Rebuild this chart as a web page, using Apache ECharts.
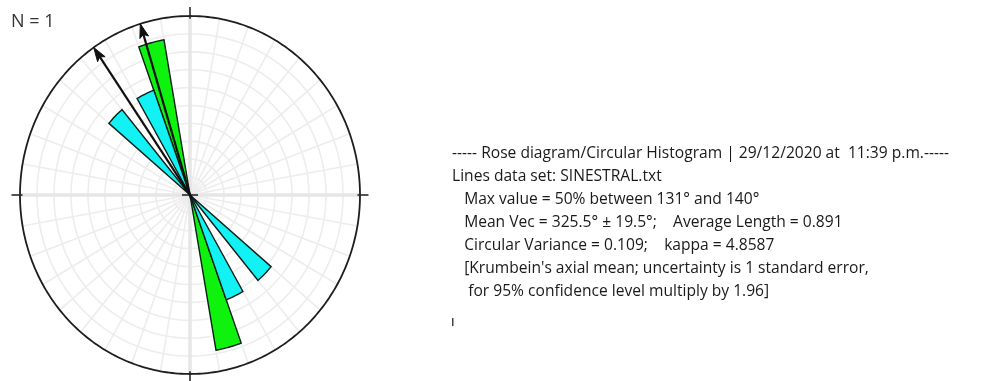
<!DOCTYPE html>
<html>
<head>
<meta charset="utf-8">
<script src="https://cdn.jsdelivr.net/npm/echarts@6/dist/echarts.min.js"></script>
<style>
  html, body { margin: 0; padding: 0; background: #ffffff; }
  #chart { width: 990px; height: 381px; }
</style>
</head>
<body>
<div id="chart"></div>
<script>
// Axial rose diagram (equal-area petals), bins of 10 degrees.
const binStartDeg = [160, 150, 130];          // bin lower bound, degrees clockwise from north
const binPercent = [50, 25, 25];              // frequency of each bin, %
const binIsMax = [true, false, false];
const outerPercent = 64.5;                    // percentage that maps to the outer circle (sqrt scale)

// Direction vectors (mean vector and modal direction), degrees
const arrowDeg = [325.5, 343];

// Reference net
const ringFractions = [0.1, 0.2, 0.3, 0.4, 0.5, 0.6, 0.7, 0.8, 0.9];
const spokeDeg = [0, 10, 20, 30, 40, 50, 60, 70, 80, 90, 100, 110, 120, 130, 140, 150, 160, 170,
                  180, 190, 200, 210, 220, 230, 240, 250, 260, 270, 280, 290, 300, 310, 320, 330, 340, 350];
const cardinalDeg = [0, 90, 180, 270];

const sampleLabel = 'N = 1';
const infoLines = [
  '----- Rose diagram/Circular Histogram | 29/12/2020 at  11:39 p.m.-----',
  'Lines data set: SINESTRAL.txt',
  '   Max value = 50% between 131° and 140°',
  '   Mean Vec = 325.5° ± 19.5°;    Average Length = 0.891',
  '   Circular Variance = 0.109;    kappa = 4.8587',
  '   [Krumbein\'s axial mean; uncertainty is 1 standard error,',
  '    for 95% confidence level multiply by 1.96]'
];

// Build petals: each axial bin is drawn twice (direction and its opposite)
const petals = [];
binStartDeg.forEach((s, i) => {
  [s, (s + 180) % 360].forEach(a => petals.push([a, a + 10, binPercent[i], binIsMax[i] ? 1 : 0]));
});

function pt(api, deg, r) {
  const t = deg * Math.PI / 180;
  return api.coord([r * Math.sin(t), r * Math.cos(t)]);
}

function arcPoints(api, a0, a1, r, step) {
  const pts = [];
  for (let a = a0; a <= a1 + 1e-9; a += step) pts.push(pt(api, a, r));
  return pts;
}

const chart = echarts.init(document.getElementById('chart'), null, { renderer: 'canvas' });

const option = {
  animation: false,
  backgroundColor: '#ffffff',
  grid: { left: 20, top: 16, width: 340, height: 358 },
  xAxis: { type: 'value', min: -1, max: 1, show: false },
  yAxis: { type: 'value', min: -1, max: 1, show: false },
  series: [
    // concentric rings
    {
      type: 'custom', silent: true, z: 1,
      data: ringFractions,
      renderItem: (params, api) => ({
        type: 'polyline',
        shape: { points: arcPoints(api, 0, 360, api.value(0), 2) },
        style: { stroke: '#ededed', lineWidth: 1.6, fill: null }
      })
    },
    // spokes
    {
      type: 'custom', silent: true, z: 1,
      data: spokeDeg,
      renderItem: (params, api) => {
        const a = pt(api, api.value(0), 0), b = pt(api, api.value(0), 1);
        return { type: 'line', shape: { x1: a[0], y1: a[1], x2: b[0], y2: b[1] },
                 style: { stroke: '#ededed', lineWidth: 1.6 } };
      }
    },
    // N-S / E-W axes through the centre
    {
      type: 'custom', silent: true, z: 2,
      data: [0, 90],
      renderItem: (params, api) => {
        const a = pt(api, api.value(0), 1), b = pt(api, api.value(0) + 180, 1);
        return { type: 'line', shape: { x1: a[0], y1: a[1], x2: b[0], y2: b[1] },
                 style: { stroke: '#e6e6e6', lineWidth: 3.5 } };
      }
    },
    // petals
    {
      type: 'custom', silent: true, z: 3,
      data: petals,
      renderItem: (params, api) => {
        const a0 = api.value(0), a1 = api.value(1);
        const r = Math.sqrt(api.value(2) / outerPercent);
        const pts = [pt(api, 0, 0)].concat(arcPoints(api, a0, a1, r, 1));
        return {
          type: 'polygon',
          shape: { points: pts },
          style: { fill: api.value(3) ? '#0ef20e' : '#12f2f4', stroke: '#0c1f18', lineWidth: 1.4 }
        };
      }
    },
    // outer circle, cardinal ticks and centre cross
    {
      type: 'custom', silent: true, z: 4,
      data: [1],
      renderItem: (params, api) => {
        const children = [{
          type: 'polyline',
          shape: { points: arcPoints(api, 0, 360, 1, 1) },
          style: { stroke: '#1e1e1e', lineWidth: 1.8, fill: null }
        }];
        cardinalDeg.forEach(d => {
          const a = pt(api, d, 0.985), b = pt(api, d, 1.05);
          children.push({ type: 'line', shape: { x1: a[0], y1: a[1], x2: b[0], y2: b[1] },
                          style: { stroke: '#2a2a2a', lineWidth: 1.6 } });
        });
        const c = pt(api, 0, 0);
        children.push({ type: 'line', shape: { x1: c[0] - 8, y1: c[1], x2: c[0] + 8, y2: c[1] },
                        style: { stroke: '#2a2a2a', lineWidth: 1.6 } });
        return { type: 'group', children };
      }
    },
    // direction arrows
    {
      type: 'custom', silent: true, z: 5,
      data: arrowDeg,
      renderItem: (params, api) => {
        const d = api.value(0);
        const c = pt(api, d + 180, 0.02), tip = pt(api, d, 1);
        const ang = Math.atan2(tip[1] - c[1], tip[0] - c[0]);
        const len = 14, half = 4.5;
        const bx = tip[0] - len * Math.cos(ang), by = tip[1] - len * Math.sin(ang);
        const nx = -Math.sin(ang), ny = Math.cos(ang);
        return {
          type: 'group',
          children: [
            { type: 'line', shape: { x1: c[0], y1: c[1], x2: bx + 4 * Math.cos(ang), y2: by + 4 * Math.sin(ang) },
              style: { stroke: '#111111', lineWidth: 2.2 } },
            { type: 'polygon',
              shape: { points: [tip, [bx + half * nx, by + half * ny], [bx + 3 * Math.cos(ang), by + 3 * Math.sin(ang)], [bx - half * nx, by - half * ny]] },
              style: { fill: '#111111', stroke: '#111111', lineWidth: 1 } }
          ]
        };
      }
    }
  ],
  graphic: [
    { type: 'text', left: 11, top: 13,
      style: { text: sampleLabel, font: '18px "Open Sans", sans-serif', fill: '#333333' } }
  ].concat(infoLines.map((t, i) => ({
    type: 'text', left: 452, top: 146 + i * 23,
    style: { text: t, font: '15.6px "Open Sans", sans-serif', fill: '#1a1a1a' }
  }))).concat([
    { type: 'rect', shape: { x: 452, y: 318, width: 1.5, height: 8 }, style: { fill: '#444444' } }
  ])
};

chart.setOption(option);
</script>
</body>
</html>
